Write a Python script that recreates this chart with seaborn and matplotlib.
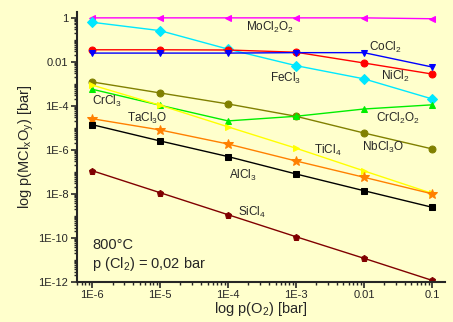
import numpy as np
import pandas as pd
import matplotlib
matplotlib.use("Agg")
import matplotlib.pyplot as plt
import matplotlib.ticker as mticker
import seaborn as sns

# Daten (log10-Werte)
p_o2 = [1e-6, 1e-5, 1e-4, 1e-3, 1e-2, 1e-1]
x_labels = ["1E-6", "1E-5", "1E-4", "1E-3", "0.01", "0.1"]

mocl2o2 = [0.0, 0.0, 0.0, 0.0, 0.0, -0.04]
fecl3 = [-0.2, -0.58, -1.42, -2.17, -2.77, -3.68]
nicl2 = [-1.45, -1.45, -1.46, -1.56, -2.05, -2.55]
cocl2 = [-1.6, -1.6, -1.6, -1.58, -1.58, -2.23]
nbcl3o = [-2.91, -3.41, -3.91, -4.47, -5.23, -5.95]
crcl = [-3.24, -3.97, -4.68, -4.47, -4.14, -3.95]
ticl4 = [-3.05, -3.97, -4.95, -5.92, -6.95, -7.97]
tacl3o = [-4.58, -5.09, -5.73, -6.5, -7.24, -7.99]
alcl3 = [-4.85, -5.59, -6.3, -7.09, -7.85, -8.6]
sicl4 = [-6.94, -7.94, -8.94, -9.94, -10.92, -11.92]

y_ticks = [1, 1e-2, 1e-4, 1e-6, 1e-8, 1e-10, 1e-12]
y_labels = ["1", "0.01", "1E-4", "1E-6", "1E-8", "1E-10", "1E-12"]

series = [
    (mocl2o2, "#ff00ff", "<"),
    (fecl3, "#00e8ff", "D"),
    (nicl2, "#ff0000", "o"),
    (cocl2, "#0000ff", "v"),
    (nbcl3o, "#808000", "o"),
    (crcl, "#00ee00", "^"),
    (ticl4, "#ffff00", ">"),
    (tacl3o, "#ff8000", "*"),
    (alcl3, "#000000", "s"),
    (sicl4, "#800000", "p"),
]

# Beschriftungen: (Text, log x, log y)
labels = [
    (r"MoCl$_2$O$_2$", -3.38, -0.45),
    (r"CoCl$_2$", -1.68, -1.36),
    (r"FeCl$_3$", -3.16, -2.73),
    (r"NiCl$_2$", -1.54, -2.68),
    (r"CrCl$_2$O$_2$", -1.5, -4.55),
    (r"NbCl$_3$O", -1.72, -5.9),
    (r"TiCl$_4$", -2.54, -6.0),
    (r"CrCl$_3$", -5.78, -3.8),
    (r"TaCl$_3$O", -5.19, -4.55),
    (r"AlCl$_3$", -3.78, -7.14),
    (r"SiCl$_4$", -3.65, -8.82),
]

bg = "#ffffcc"
sns.set_style("ticks")
plt.rcParams["font.family"] = ["Liberation Sans", "DejaVu Sans"]
plt.rcParams["mathtext.default"] = "regular"

fig = plt.figure(figsize=(4.53, 3.22), dpi=100, facecolor=bg)
ax = fig.add_axes([0.169, 0.124, 0.813, 0.839])
ax.set_facecolor(bg)

for vals, col, mk in series:
    df = pd.DataFrame({"x": p_o2, "y": 10.0 ** np.array(vals)})
    sns.lineplot(data=df, x="x", y="y", ax=ax, color=col, marker=mk,
                 markersize=5 if mk != "*" else 7, markeredgecolor=col,
                 linewidth=1.0)

ax.set_xscale("log")
ax.set_yscale("log")
ax.set_xlim(10 ** -6.228, 10 ** -0.81)
ax.set_ylim(1e-12, 10 ** 0.27)

ax.set_xticks(p_o2)
ax.set_xticklabels(x_labels)
ax.set_yticks(y_ticks)
ax.set_yticklabels(y_labels)
ax.xaxis.set_minor_locator(mticker.LogLocator(base=10, subs=np.arange(2, 10)))
ax.yaxis.set_minor_locator(mticker.LogLocator(base=10, subs=np.arange(1, 10), numticks=30))
ax.yaxis.set_minor_formatter(mticker.NullFormatter())
ax.xaxis.set_minor_formatter(mticker.NullFormatter())
ax.tick_params(which="major", direction="out", length=4, width=1.2, labelsize=8, pad=2)
ax.tick_params(which="minor", direction="out", length=2.5, width=1)

for side in ["top", "right"]:
    ax.spines[side].set_visible(False)
for side in ["left", "bottom"]:
    ax.spines[side].set_linewidth(1.5)

ax.set_xlabel(r"log p(O$_2$) [bar]", fontsize=10.5, labelpad=0)
ax.set_ylabel(r"log p(MCl$_x$O$_y$) [bar]", fontsize=10.5, labelpad=2)

for txt, lx, ly in labels:
    ax.text(10 ** lx, 10 ** ly, txt, fontsize=8.5, ha="center", va="center")

ax.text(1e-6, 10 ** -10.3, "800°C", fontsize=10.5, ha="left", va="center")
ax.text(1e-6, 10 ** -11.2, r"p (Cl$_2$) = 0,02 bar", fontsize=10.5, ha="left", va="center")

plt.savefig("out.png", dpi=100, facecolor=bg)
